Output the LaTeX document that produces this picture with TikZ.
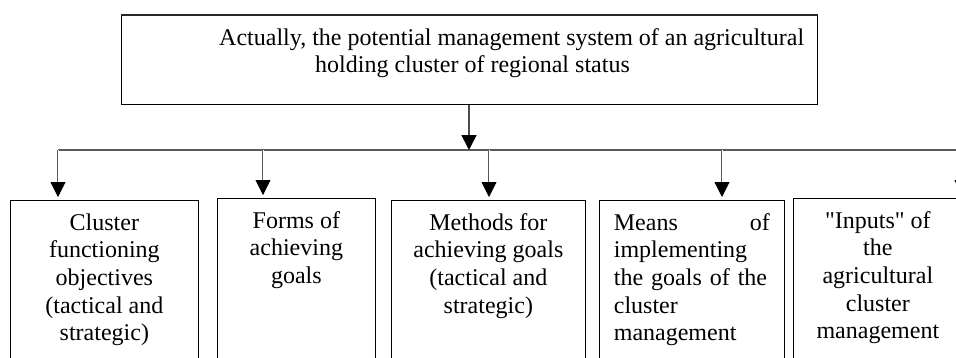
\documentclass[tikz,border=0pt]{standalone}
\usepackage{fontspec}
\setmainfont{Liberation Serif}[Ligatures=TeXOff]
\usetikzlibrary{arrows.meta,positioning}
\tikzset{
  box/.style={draw, line width=0.7pt, inner sep=0pt, anchor=north west},
  boxtext/.style={inner sep=0pt, font=\fontsize{24}{27.6}\selectfont},
  tip/.style={-{Triangle[width=15pt,length=15pt,black]}},
  drop/.style={tip, draw=gray!70!black, double=white, double distance=1pt, line width=0.8pt, shorten >=3pt},
  feed/.style={tip, draw=gray!60!black, line width=1.6pt},
  bus/.style={draw=gray!70!black, line width=1.6pt},
}
\begin{document}
\begin{tikzpicture}[x=1pt,y=-1pt]
  \useasboundingbox (0,0) rectangle (956,357);
  \clip (0,0) rectangle (956,357);

  \node[box, minimum width=696pt, minimum height=89pt] (sys) at (121,15) {};
  \draw[line width=2pt, black!85] (sys.north west) -- (sys.north east);
  \node[boxtext, align=left, anchor=north west] (systext) at (219,25.7)
    {\strut Actually, the potential management system of an agricultural\\
     \hspace*{96pt}holding cluster of regional status};

  \node[box, minimum width=188pt, minimum height=200pt] (goals) at (10,200) {};
  \node[box, minimum width=158pt, minimum height=200pt] (forms) at (217,198) {};
  \node[box, minimum width=194pt, minimum height=200pt] (methods) at (391,200) {};
  \node[box, minimum width=185pt, minimum height=200pt] (means) at (599,200) {};
  \node[box, minimum width=169pt, minimum height=200pt] (inputs) at (793,198) {};

  \node[boxtext, align=center, below=10.7pt of goals.north]
    {\strut Cluster\\functioning\\objectives\\(tactical and\\strategic)};
  \node[boxtext, align=center, below=10.7pt of forms.north]
    {\strut Forms of\\achieving\\goals};
  \node[boxtext, align=center, below=10.7pt of methods.north]
    {\strut Methods for\\achieving goals\\(tactical and\\strategic)};
  \node[boxtext, align=left, text width=156pt, below=10.7pt of means.north]
    {\strut Means\hfill of\\implementing\\the goals of the\\cluster\\management};
  \node[boxtext, align=center, below=10.7pt of inputs.north]
    {\strut "Inputs" of\\the\\agricultural\\cluster\\management};

  \coordinate (hub) at (469,150);
  \coordinate (busend) at (975,150);
  \foreach \x/\b [count=\i] in {58/goals, 263/forms, 489/methods, 722/means, 962/inputs}
    \coordinate (d\i) at (\x,150);
  \draw[bus] (d1) -- (busend);
  \draw[feed] (sys.south -| hub) -- (hub);
  \foreach \b [count=\i] in {goals, forms, methods, means, inputs}
    \draw[drop] (d\i) -- (d\i |- \b.north);
\end{tikzpicture}
\end{document}
